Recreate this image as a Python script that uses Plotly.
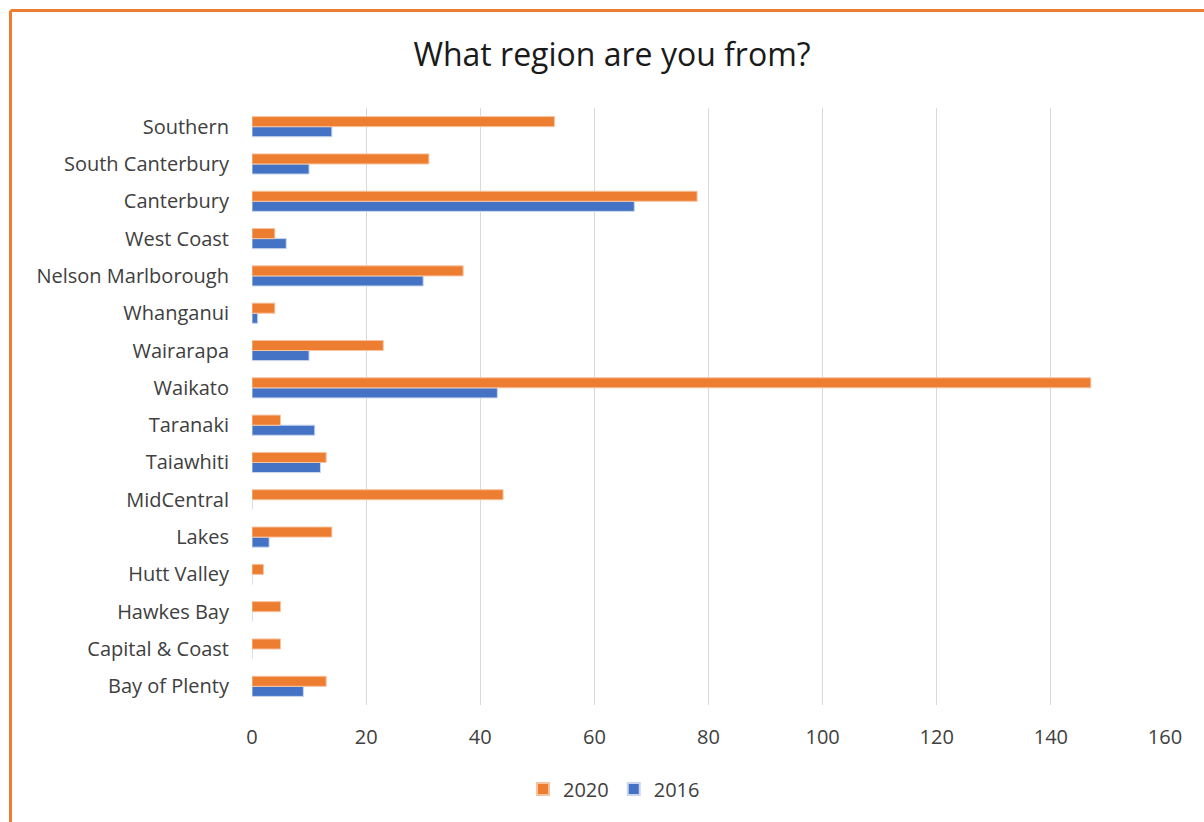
import plotly.graph_objects as go

regions = ["Southern", "South Canterbury", "Canterbury", "West Coast", "Nelson Marlborough",
           "Whanganui", "Wairarapa", "Waikato", "Taranaki", "Taiawhiti", "MidCentral",
           "Lakes", "Hutt Valley", "Hawkes Bay", "Capital & Coast", "Bay of Plenty"]
v2020 = [53, 31, 78, 4, 37, 4, 23, 147, 5, 13, 44, 14, 2, 5, 5, 13]
v2016 = [14, 10, 67, 6, 30, 1, 10, 43, 11, 12, 0, 3, 0, 0, 0, 9]
x_ticks = [0, 20, 40, 60, 80, 100, 120, 140, 160]

# plotly draws categories bottom-up; reverse so Southern is at top
cats = regions[::-1]
y2020 = v2020[::-1]
y2016 = v2016[::-1]

W, H = 1204, 822
L, R, T, B = 252, 39, 108, 117
pw, ph = W - L - R, H - T - B

def px(x):
    return (x - L) / pw

def py(y):
    return (H - B - y) / ph

fig = go.Figure()
fig.add_trace(go.Bar(y=cats, x=y2016, name="2016", orientation="h",
                     marker=dict(color="#4472C4", line=dict(color="#C9D6EE", width=1)),
                     legendrank=2))
fig.add_trace(go.Bar(y=cats, x=y2020, name="2020", orientation="h",
                     marker=dict(color="#ED7D31", line=dict(color="#F7C4A0", width=1)),
                     legendrank=1))

fig.update_layout(
    width=W, height=H,
    margin=dict(l=L, r=R, t=T, b=B, autoexpand=False),
    paper_bgcolor="white", plot_bgcolor="white",
    barmode="group", bargap=0.46, bargroupgap=0,
    font=dict(family="Open Sans, Liberation Sans, sans-serif", color="#404040"),
    title=dict(text="What region are you from?", x=px(612), xanchor="center", xref="paper",
               y=1 - 55 / H, yanchor="middle",
               font=dict(size=32, color="#1a1a1a")),
    xaxis=dict(range=[0, 160], tickvals=x_ticks, showgrid=True, gridcolor="#D9D9D9",
               gridwidth=1, zeroline=False, showline=False, ticks="",
               tickfont=dict(size=20, color="#404040"), ticklabelstandoff=18, fixedrange=True),
    yaxis=dict(categoryorder="array", categoryarray=cats, showgrid=False, ticks="",
               tickfont=dict(size=20, color="#404040"), ticklabelstandoff=22, showline=False),
    legend=dict(orientation="h", x=px(614), xanchor="center", y=py(789), yanchor="middle",
                xref="paper", yref="paper",
                font=dict(size=20, color="#404040"), itemsizing="constant",
                traceorder="normal", itemwidth=30),
    shapes=[
        dict(type="line", xref="paper", yref="paper", x0=px(10.5), x1=px(1210),
             y0=py(10.5), y1=py(10.5), line=dict(color="#ED7D31", width=3)),
        dict(type="line", xref="paper", yref="paper", x0=px(10.5), x1=px(10.5),
             y0=py(10.5), y1=py(830), line=dict(color="#ED7D31", width=3)),
    ],
)

fig.write_html("out.html")
